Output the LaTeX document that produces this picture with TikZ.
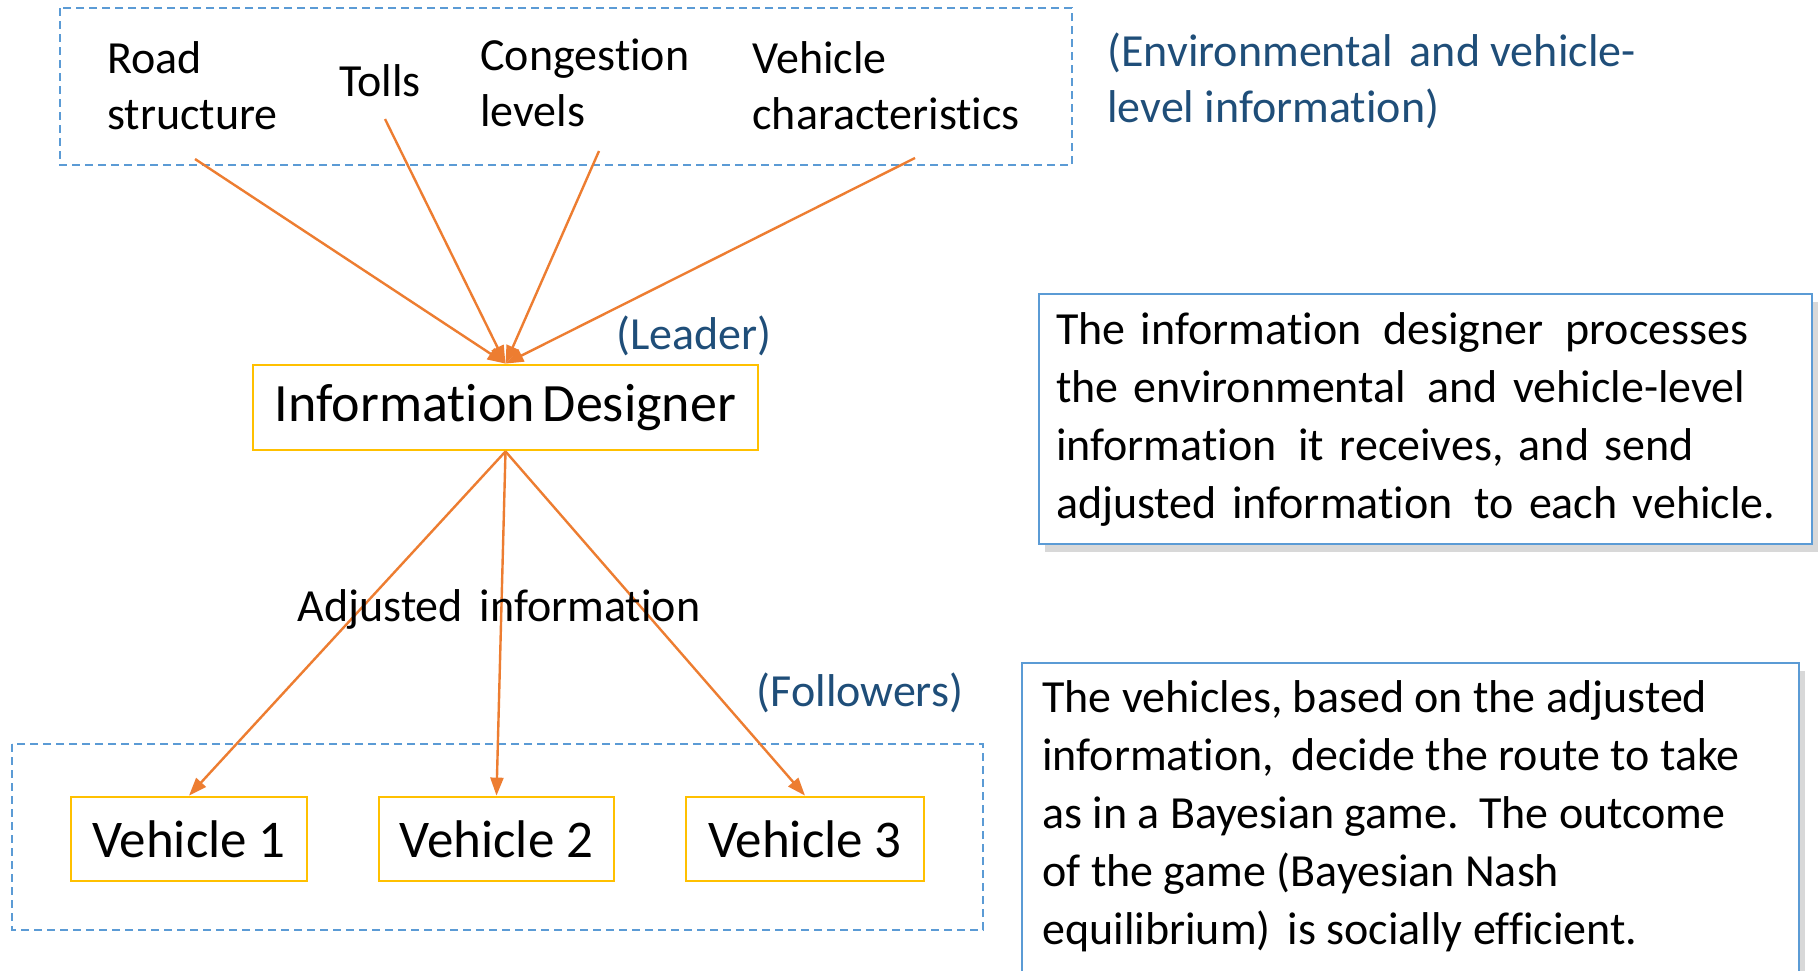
\documentclass[tikz,border=0pt]{standalone}
\usepackage{fontspec}
\setmainfont{Carlito}[RawFeature={-liga;-clig;-dlig;-hlig;-calt}]
\usetikzlibrary{arrows.meta,shadows}
\definecolor{dblue}{RGB}{91,155,213}
\definecolor{lorange}{RGB}{237,125,49}
\definecolor{lyellow}{RGB}{255,192,0}
\definecolor{tblue}{RGB}{31,78,121}
\newcommand{\dsp}{\hspace{0.14em} }
\begin{document}
\begin{tikzpicture}[x=0.5pt,y=-0.5pt,
  lbl/.style={font=\fontsize{23}{28}\selectfont, align=left, inner sep=0pt},
  blbl/.style={lbl, text=tblue},
  ybox/.style={draw=lyellow, line width=1.4pt, minimum height=42pt, inner sep=0pt, font=\fontsize{26.5}{31}\selectfont},
  grp/.style={draw=dblue, dash pattern=on 4pt off 2.5pt, line width=1.4pt},
  flow/.style={draw=lorange, line width=1.2pt, -{Triangle[length=9pt,width=6.5pt]}},
  note/.style={draw=dblue, line width=1.1pt, fill=white, drop shadow={opacity=0.3, shadow xshift=3pt, shadow yshift=-4pt}},
  ntext/.style={font=\fontsize{23}{29}\selectfont, align=left, inner sep=0pt},
]
\useasboundingbox (0,0) rectangle (1818,970);
\fill[white] (0,0) rectangle (1818,970);

% group boxes
\draw[grp] (60,8) rectangle (1072,165);
\draw[grp] (12,744) rectangle (983,930);

% top labels
\node[lbl, anchor=west] (road) at (107,86) {Road\\structure};
\node[lbl] (tolls) at (380,81) {Tolls};
\node[lbl, anchor=west] (cong) at (480,83) {Congestion\\levels};
\node[lbl, anchor=west] (vchar) at (752,86) {Vehicle\\characteristics};
\node[blbl, anchor=west] (env) at (1107,81) {(Environmental\dsp and vehicle-\\level information)};

\coordinate (s1) at (195,159);
\coordinate (s2) at (385,119);
\coordinate (s3) at (599,151);
\coordinate (s4) at (915,158);

% designer
\node[ybox, minimum width=252.5pt, minimum height=42.5pt, font=\fontsize{27}{32}\selectfont] (ID) at (505.5,407.5) {Information\hspace{-0.08em} Designer};
\node[blbl] (leader) at (694,336) {(Leader)};

\draw[flow] (s1) -- (ID.north);
\draw[flow] (s2) -- (ID.north);
\draw[flow] (s3) -- (ID.north);
\draw[flow] (s4) -- (ID.north);

% vehicles
\node[ybox, minimum width=118pt] (V1) at (189,839) {Vehicle 1};
\node[ybox, minimum width=117.5pt] (V2) at (496.5,839) {Vehicle 2};
\node[ybox, minimum width=119pt] (V3) at (805,839) {Vehicle 3};

\draw[flow] (ID.south) -- (V1.north);
\draw[flow] (ID.south) -- (V2.north);
\draw[flow] (ID.south) -- (V3.north);

\node[lbl] (adj) at (499,609) {Adjusted\dsp information};
\node[blbl] (foll) at (860,693) {(Followers)};

% notes
\node[note, anchor=north west, minimum width=386.5pt, minimum height=125pt, text width=369.5pt, inner xsep=8.5pt, ntext] (n1) at (1038,293)
 {The information\dsp designer\dsp processes\\the environmental\dsp and vehicle-level\\information\dsp it receives, and send\\adjusted information\dsp to each vehicle.};

\node[note, anchor=north west, minimum width=388.5pt, minimum height=170pt, inner sep=0pt] (n2box) at (1021,662) {};
\node[ntext, anchor=west] (n2) at (1042,816)
 {The vehicles, based on the adjusted\\information,\dsp decide the route to take\\as in a Bayesian game.\dsp The outcome\\of the game (Bayesian Nash\\equilibrium)\dsp is socially efficient.};
\end{tikzpicture}
\end{document}
